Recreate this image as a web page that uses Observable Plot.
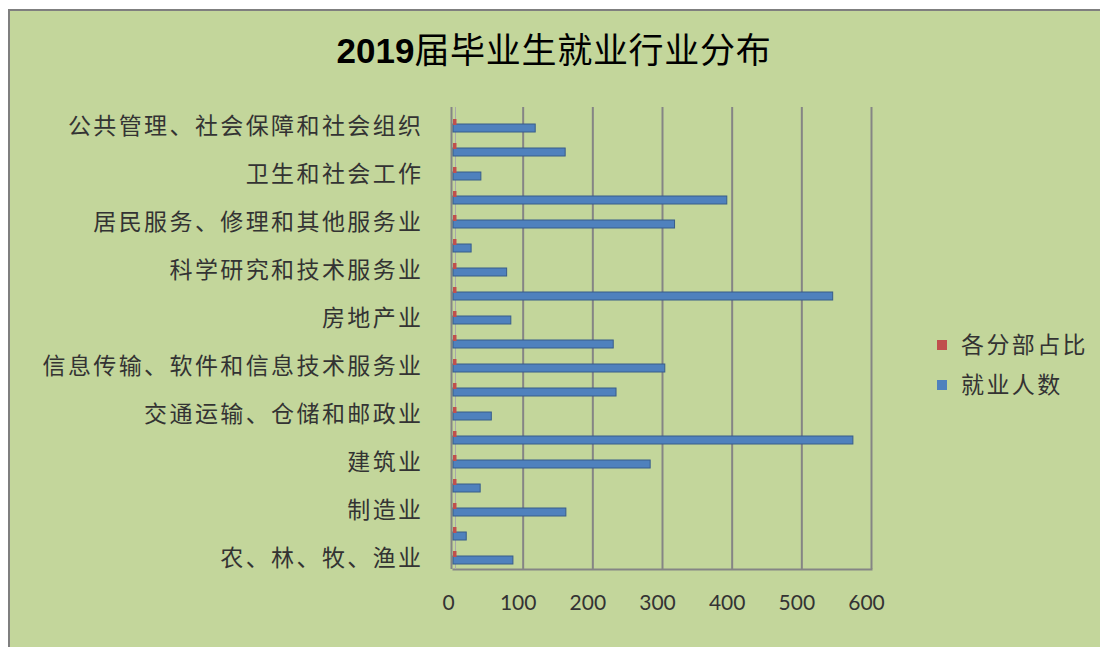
<!DOCTYPE html>
<html><head><meta charset="utf-8">
<script src="https://cdn.jsdelivr.net/npm/d3@7"></script>
<script src="https://cdn.jsdelivr.net/npm/@observablehq/plot@0.6"></script>
<style>
body{margin:0;background:#fff;width:1100px;height:647px;overflow:hidden;position:relative;font-family:"Noto Sans CJK SC",sans-serif;}
#panel{position:absolute;left:8px;top:9px;width:1100px;height:650px;background:#c3d69b;border-left:2px solid #7f7f7f;border-top:2px solid #7f7f7f;}
#title{position:absolute;left:8px;width:1092px;top:30px;text-align:center;font-size:35px;line-height:35px;color:#000;letter-spacing:0.7px;white-space:nowrap;}
#title b{font-family:"Liberation Sans",Arial,sans-serif;font-weight:bold;letter-spacing:0;}
#chart{position:absolute;left:0;top:0;}
#chart svg [aria-label="y-axis tick label"] text{letter-spacing:2.4px;}
#legend{position:absolute;left:937px;top:329px;font-size:23px;letter-spacing:2.4px;color:#333;}
#legend div{height:40px;line-height:28px;white-space:nowrap;}
#legend span.sw{display:inline-block;width:10px;height:10px;margin-right:14px;vertical-align:middle;position:relative;top:-2px;}
</style>
</head><body>
<div id="panel"></div>
<div id="title"><b>2019</b>届毕业生就业行业分布</div>
<div id="chart"></div>
<div id="legend"></div>
<script>
// Categories, bottom to top as in the reference
const categories = [
  "农、林、牧、渔业",
  "采矿业",
  "制造业",
  "电力、热力、燃气及水生产和供应业",
  "建筑业",
  "批发和零售业",
  "交通运输、仓储和邮政业",
  "住宿和餐饮业",
  "信息传输、软件和信息技术服务业",
  "金融业",
  "房地产业",
  "租赁和商务服务业",
  "科学研究和技术服务业",
  "水利、环境和公共设施管理业",
  "居民服务、修理和其他服务业",
  "教育",
  "卫生和社会工作",
  "文化、体育和娱乐业",
  "公共管理、社会保障和社会组织"
];
// 就业人数
const employed = [86, 19, 162, 39, 283, 574, 55, 234, 304, 230, 83, 545, 77, 26, 318, 393, 40, 161, 118];
// 各分部占比 (drawn as tiny bars)
const share = [5, 5, 5, 5, 5, 5, 5, 5, 5, 5, 5, 5, 5, 5, 5, 5, 5, 5, 5];
// Only every other category is labelled in the reference
const labelledCategories = [
  "农、林、牧、渔业", "制造业", "建筑业", "交通运输、仓储和邮政业",
  "信息传输、软件和信息技术服务业", "房地产业", "科学研究和技术服务业",
  "居民服务、修理和其他服务业", "卫生和社会工作", "公共管理、社会保障和社会组织"
];
const xTicks = [0, 100, 200, 300, 400, 500, 600];
const seriesNames = ["各分部占比", "就业人数"];
const seriesColors = ["#c0504d", "#4f81bd"];

const rows = categories.map((c, i) => ({cat: c, employed: employed[i], share: share[i]}));

const chart = Plot.plot({
  width: 1100,
  height: 647,
  marginLeft: 453,
  marginRight: 229,
  marginTop: 107,
  marginBottom: 78,
  style: {background: "transparent", color: "#333", fontFamily: "'Noto Sans CJK SC', sans-serif"},
  x: {domain: [0, 600]},
  y: {domain: categories.slice().reverse(), padding: 0},
  marks: [
    Plot.ruleX(xTicks.slice(1), {stroke: "#858585", strokeWidth: 2}),
    Plot.frame({anchor: "bottom", stroke: "#858585", strokeWidth: 2}),
    Plot.ruleX([0], {stroke: "#858585", strokeWidth: 2, dx: -2}),
    Plot.ruleX([0], {stroke: "#a9a9a9", strokeWidth: 1, dx: 2}),
    Plot.barX(rows, {x: "employed", y: "cat", fill: seriesColors[1], stroke: "#385d8a", strokeWidth: 1, insetTop: 14, insetBottom: 2}),
    Plot.barX(rows, {x: "share", y: "cat", fill: seriesColors[0], insetTop: 9, insetBottom: 9}),
    Plot.axisY({ticks: labelledCategories, tickSize: 0, tickPadding: 30, fontSize: 23, dy: 4, label: null}),
    Plot.axisX({ticks: xTicks, tickSize: 0, tickPadding: 26, fontSize: 21, dx: -5, label: null, fontFamily: "Lato, sans-serif"})
  ]
});
document.getElementById("chart").appendChild(chart);

const legend = document.getElementById("legend");
seriesNames.forEach((n, i) => {
  const d = document.createElement("div");
  d.innerHTML = `<span class="sw" style="background:${seriesColors[i]}"></span>${n}`;
  legend.appendChild(d);
});
</script>
</body></html>
